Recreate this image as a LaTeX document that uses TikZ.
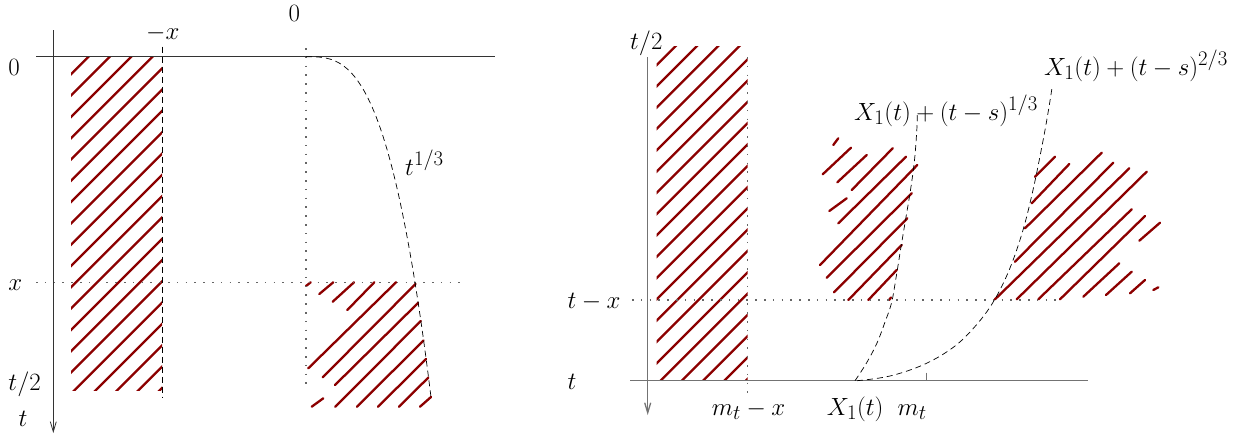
\documentclass[tikz,border=0pt]{standalone}
\usetikzlibrary{arrows.meta}
\definecolor{hatchred}{RGB}{140,0,0}
\begin{document}
\begin{tikzpicture}[x=1pt,y=-1pt,
  every node/.style={font=\Huge, inner sep=0pt},
  lbl/.style={anchor=base west},
  hatch/.style={draw=hatchred, line width=2.3pt, line cap=round},
  axisL/.style={draw=black!80, line width=0.8pt},
  axisR/.style={draw=black!55, line width=1.3pt},
  dashline/.style={draw=black, line width=0.7pt, dash pattern=on 6pt off 4pt},
  dotline/.style={draw=black!60, line width=1.2pt, dash pattern=on 1.6pt off 7.2pt},
  downarrow/.style={-{Straight Barb[length=10pt,width=6pt]}}]
\useasboundingbox (0,0) rectangle (1244,437);

% ================= LEFT PANEL =================
% hatched rectangle
\begin{scope}
  \clip (71,56.7) rectangle (162,390);
  \foreach \k in {0,...,19} {
    \draw[hatch] ({145.3+21.3*\k},0) -- ({145.3+21.3*\k-500},500);
  }
\end{scope}
% lower-right hatched region
\foreach \a/\b/\c/\d in {306/286/310.7/282.3, 319.3/294/333.3/282.3, 332.7/301.7/354/282.3,
  347.3/310/374.3/282.3, 308.3/368.3/396/282.3, 322.7/377.3/415.5/284, 335/385/418/303,
  311.7/406.7/323.3/398.3, 335.3/406.7/420.8/321, 357/406.7/423.5/340.5,
  378/406.7/426.1/359, 399/406.7/428.4/377.5, 420/406.7/431/397}
  \draw[hatch] (\a,\b) -- (\c,\d);

\coordinate (LAtop) at (53.3,30);
\coordinate (LAbot) at (53.3,433);
\coordinate (LHl) at (36,56.7);
\coordinate (LHr) at (495,56.7);
\coordinate (LDt) at (162,46.7);
\coordinate (LDb) at (162,398);
\coordinate (LOt) at (306,48);
\coordinate (LOb) at (306,385);
\coordinate (LXl) at (36,282.3);
\coordinate (LXr) at (463,282.3);

\draw[axisL, downarrow] (LAtop) -- (LAbot);
\draw[axisL] (LHl) -- (LHr);
\draw[dashline] (LDt) -- (LDb);
\draw[dotline] (LOt) -- (LOb);
\draw[dotline] (LXl) -- (LXr);
\draw[dashline] plot[domain=0:6.98, samples=120] ({306+17.9*\x}, {56.7+\x*\x*\x});

\node[lbl] (l0) at (8.3,75) {$0$};
\node[lbl] (lx) at (8.3,290) {$x$};
\node[lbl] (lt2) at (8.3,390) {$t/2$};
\node[lbl] (lt) at (18.3,426) {$t$};
\node[lbl] (lmx) at (146,39.3) {$-x$};
\node[lbl] (ltop0) at (288.3,21.7) {$0$};
\node[lbl] (lcurve) at (405,175) {$t^{1/3}$};

% ================= RIGHT PANEL =================
\begin{scope}
  \clip (656.7,46.7) rectangle (747.5,380.7);
  \foreach \k in {0,...,19} {
    \draw[hatch] ({721.7+21.3*\k},0) -- ({721.7+21.3*\k-500},500);
  }
\end{scope}
% middle hatched region
\foreach \a/\b/\c/\d in {833.3/145/838.3/138.3, 822.7/174.3/851/147.7, 837.3/182.3/866.7/155,
  851.7/190/892.7/148.3, 829.3/211/846.7/198.3, 838.3/223.3/906/156.7, 820/265/917.3/165,
  826.7/277.7/911.7/193.3, 834/292.3/907.3/218.3, 848.3/300/901.7/245, 868.3/300/896.7/270,
  889/300/891/297.5}
  \draw[hatch] (\a,\b) -- (\c,\d);
% right hatched region
\foreach \a/\b/\c/\d in {1035/176.7/1055/156.7, 1031.7/203.3/1069.3/164, 1025/228.3/1101.7/152.7,
  1015/261.7/1113.3/162.7, 995/299.3/1129.3/168.3, 1016.7/299.3/1146.7/171.7,
  1038.3/299.3/1131.7/209.3, 1060/299.3/1145/216, 1139.3/240.7/1160/222.7,
  1083.3/296.7/1119.3/263.3, 1106/295/1131.7/271.7, 1130/293.3/1145/280, 1153.3/290/1158.3/287.3}
  \draw[hatch] (\a,\b) -- (\c,\d);

\coordinate (RAtop) at (647.7,57);
\coordinate (RAbot) at (647.7,415);
\coordinate (RHl) at (630,380.7);
\coordinate (RHr) at (1088,380.7);
\coordinate (RTt) at (926.7,372.7);
\coordinate (RTb) at (926.7,380.7);
\coordinate (RDt) at (747.5,57);
\coordinate (RDb) at (747.5,393);
\coordinate (RXl) at (632,300);
\coordinate (RXr) at (1060,300);

\draw[axisR, downarrow] (RAtop) -- (RAbot);
\draw[axisR] (RHl) -- (RHr);
\draw[axisR, line width=0.8pt] (RTt) -- (RTb);
\draw[dotline] (RDt) -- (RDb);
\draw[dotline] (RXl) -- (RXr);

\draw[dashline] plot[smooth, tension=0.6] coordinates {(855,380.7) (866.5,363) (877,343) (885,322)
  (891.5,303) (896,278) (900.5,250) (905.5,220) (910.5,190) (914.5,160) (916.8,130) (917.3,112)};
\draw[dashline] plot[smooth, tension=0.6] coordinates {(857,380.7) (890,376) (925,364) (955,346)
  (978,323) (995,299) (1010,268) (1023,230) (1033,190) (1042,146) (1048,113) (1052.3,86)};

\node[lbl] (rt2) at (630,49.3) {$t/2$};
\node[lbl] (rtx) at (567.3,308.3) {$t-x$};
\node[lbl] (rt) at (567.3,389.3) {$t$};
\node[lbl] (rmx) at (711.7,415) {$m_t-x$};
\node[lbl] (rX1) at (826.7,415) {$X_1(t)$};
\node[lbl] (rmt) at (897.3,415) {$m_t$};
\node[lbl] (rc1) at (854,120) {$X_1(t)+(t-s)^{1/3}$};
\node[lbl] (rc2) at (1044,75) {$X_1(t)+(t-s)^{2/3}$};
\end{tikzpicture}
\end{document}
